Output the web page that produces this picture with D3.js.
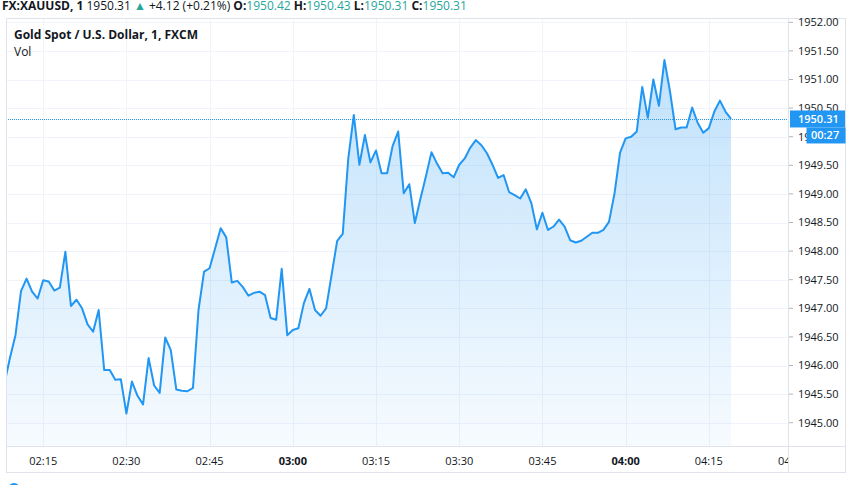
<!DOCTYPE html>
<html><head><meta charset="utf-8">
<script src="https://cdn.jsdelivr.net/npm/d3@7"></script>
<style>
html,body{margin:0;padding:0;background:#fff;}
svg{display:block;font-family:"Open Sans","Noto Sans",sans-serif;}
</style></head>
<body>
<svg id="chart" width="852" height="485"></svg>
<script>
// ---- data ----
const startMinute = 2*60 + 8; // 02:08, 1-minute bars
const prices = [
1945.68,1946.13,1946.53,1947.30,1947.52,1947.29,1947.17,1947.49,1947.47,1947.31,
1947.36,1947.99,1947.04,1947.15,1947.00,1946.72,1946.59,1946.97,1945.92,1945.92,
1945.75,1945.76,1945.16,1945.72,1945.47,1945.32,1946.13,1945.65,1945.52,1946.49,
1946.27,1945.58,1945.56,1945.55,1945.61,1946.97,1947.64,1947.70,1948.05,1948.40,
1948.24,1947.45,1947.48,1947.37,1947.22,1947.27,1947.29,1947.23,1946.83,1946.80,
1947.69,1946.53,1946.62,1946.65,1947.09,1947.34,1946.97,1946.87,1947.00,1947.59,
1948.18,1948.30,1949.62,1950.38,1949.51,1950.03,1949.55,1949.76,1949.36,1949.36,
1949.84,1950.09,1949.01,1949.17,1948.49,1948.91,1949.31,1949.73,1949.53,1949.36,
1949.37,1949.29,1949.51,1949.62,1949.81,1949.94,1949.85,1949.71,1949.51,1949.28,
1949.33,1949.03,1948.98,1948.92,1949.08,1948.84,1948.38,1948.67,1948.37,1948.43,
1948.55,1948.43,1948.19,1948.15,1948.18,1948.25,1948.32,1948.32,1948.37,1948.51,
1949.01,1949.72,1949.97,1950.00,1950.09,1950.87,1950.33,1951.00,1950.54,1951.34,
1950.79,1950.13,1950.16,1950.16,1950.51,1950.24,1950.07,1950.15,1950.44,1950.63,
1950.44,1950.31];
const priceTicks = [1945.0,1945.5,1946.0,1946.5,1947.0,1947.5,1948.0,1948.5,1949.0,1949.5,1950.0,1950.5,1951.0,1951.5,1952.0];
const timeTickLabels = ["02:15","02:30","02:45","03:00","03:15","03:30","03:45","04:00","04:15","04:30"];
const boldTimeLabels = ["03:00","04:00"];
const lastPrice = 1950.31;
const countdown = "00:27";
const header = [
  {t:"FX:XAUUSD, 1", c:"#131722", w:700},
  {t:" 1950.31 ", c:"#131722", w:400},
  {t:"▲", c:"#26a69a", w:400},
  {t:" +4.12 (+0.21%) ", c:"#131722", w:400},
  {t:"O:", c:"#131722", w:700},
  {t:"1950.42 ", c:"#26a69a", w:400},
  {t:"H:", c:"#131722", w:700},
  {t:"1950.43 ", c:"#26a69a", w:400},
  {t:"L:", c:"#131722", w:700},
  {t:"1950.31 ", c:"#26a69a", w:400},
  {t:"C:", c:"#131722", w:700},
  {t:"1950.31", c:"#26a69a", w:400}
];
const title = "Gold Spot / U.S. Dollar, 1, FXCM";
const volLabel = "Vol";

// ---- layout ----
const paneL = 6, paneT = 18, paneR = 788, paneB = 446, outerR = 846, outerB = 473;
const toMin = s => { const [h,m] = s.split(":").map(Number); return h*60+m; };
const data = prices.map((p,i)=>({m:startMinute+i, p}));

const x = d3.scaleLinear().domain([128.294, 128.294 + 140.98]).range([paneL, paneR]);
const y = d3.scaleLinear().domain([1945, 1952]).range([422.7, 22.3]);

const svg = d3.select("#chart");
const defs = svg.append("defs");
defs.append("clipPath").attr("id","pane").append("rect")
  .attr("x",paneL).attr("y",paneT).attr("width",paneR-paneL).attr("height",paneB-paneT);
defs.append("clipPath").attr("id","taxis").append("rect")
  .attr("x",paneL).attr("y",paneB).attr("width",paneR-paneL).attr("height",outerB-paneB);
defs.append("clipPath").attr("id","paxis").append("rect")
  .attr("x",paneR).attr("y",paneT).attr("width",outerR-paneR).attr("height",paneB-paneT);
const grad = defs.append("linearGradient").attr("id","fillGrad")
  .attr("gradientUnits","userSpaceOnUse").attr("x1",0).attr("y1",y(1951.34)).attr("x2",0).attr("y2",paneB);
grad.append("stop").attr("offset","0%").attr("stop-color","#2196f3").attr("stop-opacity",0.28);
grad.append("stop").attr("offset","100%").attr("stop-color","#2196f3").attr("stop-opacity",0.04);

// grid
const grid = svg.append("g").attr("clip-path","url(#pane)");
grid.selectAll("line.h").data(priceTicks).join("line")
  .attr("x1",paneL).attr("x2",paneR).attr("y1",d=>Math.round(y(d))+0.5).attr("y2",d=>Math.round(y(d))+0.5)
  .attr("stroke","#f0f3fa").attr("stroke-width",1);
grid.selectAll("line.v").data(timeTickLabels).join("line")
  .attr("x1",d=>Math.round(x(toMin(d)))+0.5).attr("x2",d=>Math.round(x(toMin(d)))+0.5)
  .attr("y1",paneT).attr("y2",paneB)
  .attr("stroke","#f0f3fa").attr("stroke-width",1);

// area + line
const plot = svg.append("g").attr("clip-path","url(#pane)");
plot.append("path").datum(data)
  .attr("d", d3.area().x(d=>x(d.m)).y0(paneB).y1(d=>y(d.p)))
  .attr("fill","url(#fillGrad)");
plot.append("path").datum(data)
  .attr("d", d3.line().x(d=>x(d.m)).y(d=>y(d.p)))
  .attr("fill","none").attr("stroke","#2196f3").attr("stroke-width",2).attr("stroke-linejoin","round");

// last price line
plot.append("line")
  .attr("x1",paneL).attr("x2",paneR).attr("y1",Math.round(y(lastPrice))+0.5).attr("y2",Math.round(y(lastPrice))+0.5)
  .attr("stroke","#2196f3").attr("stroke-width",1).attr("stroke-dasharray","1,1");

// borders
svg.append("rect").attr("x",paneL+0.5).attr("y",paneT+0.5).attr("width",outerR-paneL-1).attr("height",outerB-paneT-1)
  .attr("fill","none").attr("stroke","#e0e3eb");
svg.append("line").attr("x1",paneR+0.5).attr("x2",paneR+0.5).attr("y1",paneT).attr("y2",outerB).attr("stroke","#e0e3eb");
svg.append("line").attr("x1",paneL).attr("x2",outerR).attr("y1",paneB+0.5).attr("y2",paneB+0.5).attr("stroke","#e0e3eb");

// price axis
const pAxis = svg.append("g").attr("clip-path","url(#paxis)");
const pg = pAxis.selectAll("g").data(priceTicks).join("g").attr("transform",d=>`translate(0,${y(d)})`);
pg.append("line").attr("x1",paneR+1).attr("x2",paneR+5).attr("stroke","#b2b5be");
pg.append("text").attr("x",798).attr("dy","0.35em").attr("font-size",11).attr("fill","#131722")
  .text(d=>d3.format(".2f")(d));

// last price labels
const ly = y(lastPrice);
svg.append("rect").attr("x",paneR+2).attr("y",ly-8.5).attr("width",outerR-paneR-3).attr("height",17).attr("fill","#2196f3");
svg.append("text").attr("x",798).attr("y",ly).attr("dy","0.35em").attr("font-size",11).attr("font-weight",600)
  .attr("fill","#fff").text(d3.format(".2f")(lastPrice));
svg.append("rect").attr("x",806.5).attr("y",ly+8.5).attr("width",outerR-807).attr("height",16).attr("fill","#2196f3");
svg.append("text").attr("x",811).attr("y",ly+16.5).attr("dy","0.35em").attr("font-size",11).attr("font-weight",600)
  .attr("fill","#fff").text(countdown);

// time axis
const tAxis = svg.append("g").attr("clip-path","url(#taxis)");
tAxis.selectAll("text").data(timeTickLabels).join("text")
  .attr("x",d=>x(toMin(d))).attr("y",461).attr("dy","0.35em").attr("text-anchor","middle")
  .attr("font-size",11).attr("fill","#131722")
  .attr("font-weight",d=>boldTimeLabels.includes(d)?700:400)
  .text(d=>d);

// header
const ht = svg.append("text").attr("x",2).attr("y",9.5).attr("font-size",12);
ht.selectAll("tspan").data(header).join("tspan")
  .attr("fill",d=>d.c).attr("font-weight",d=>d.w).attr("xml:space","preserve").text(d=>d.t);
svg.append("text").attr("x",14).attr("y",38.5).attr("font-size",12).attr("font-weight",700).attr("fill","#131722").text(title);
svg.append("text").attr("x",14).attr("y",55.5).attr("font-size",12).attr("fill","#131722").text(volLabel);

// bottom indicator dot
svg.append("circle").attr("cx",14).attr("cy",489).attr("r",6).attr("fill","#2196f3");
</script>
</body></html>
